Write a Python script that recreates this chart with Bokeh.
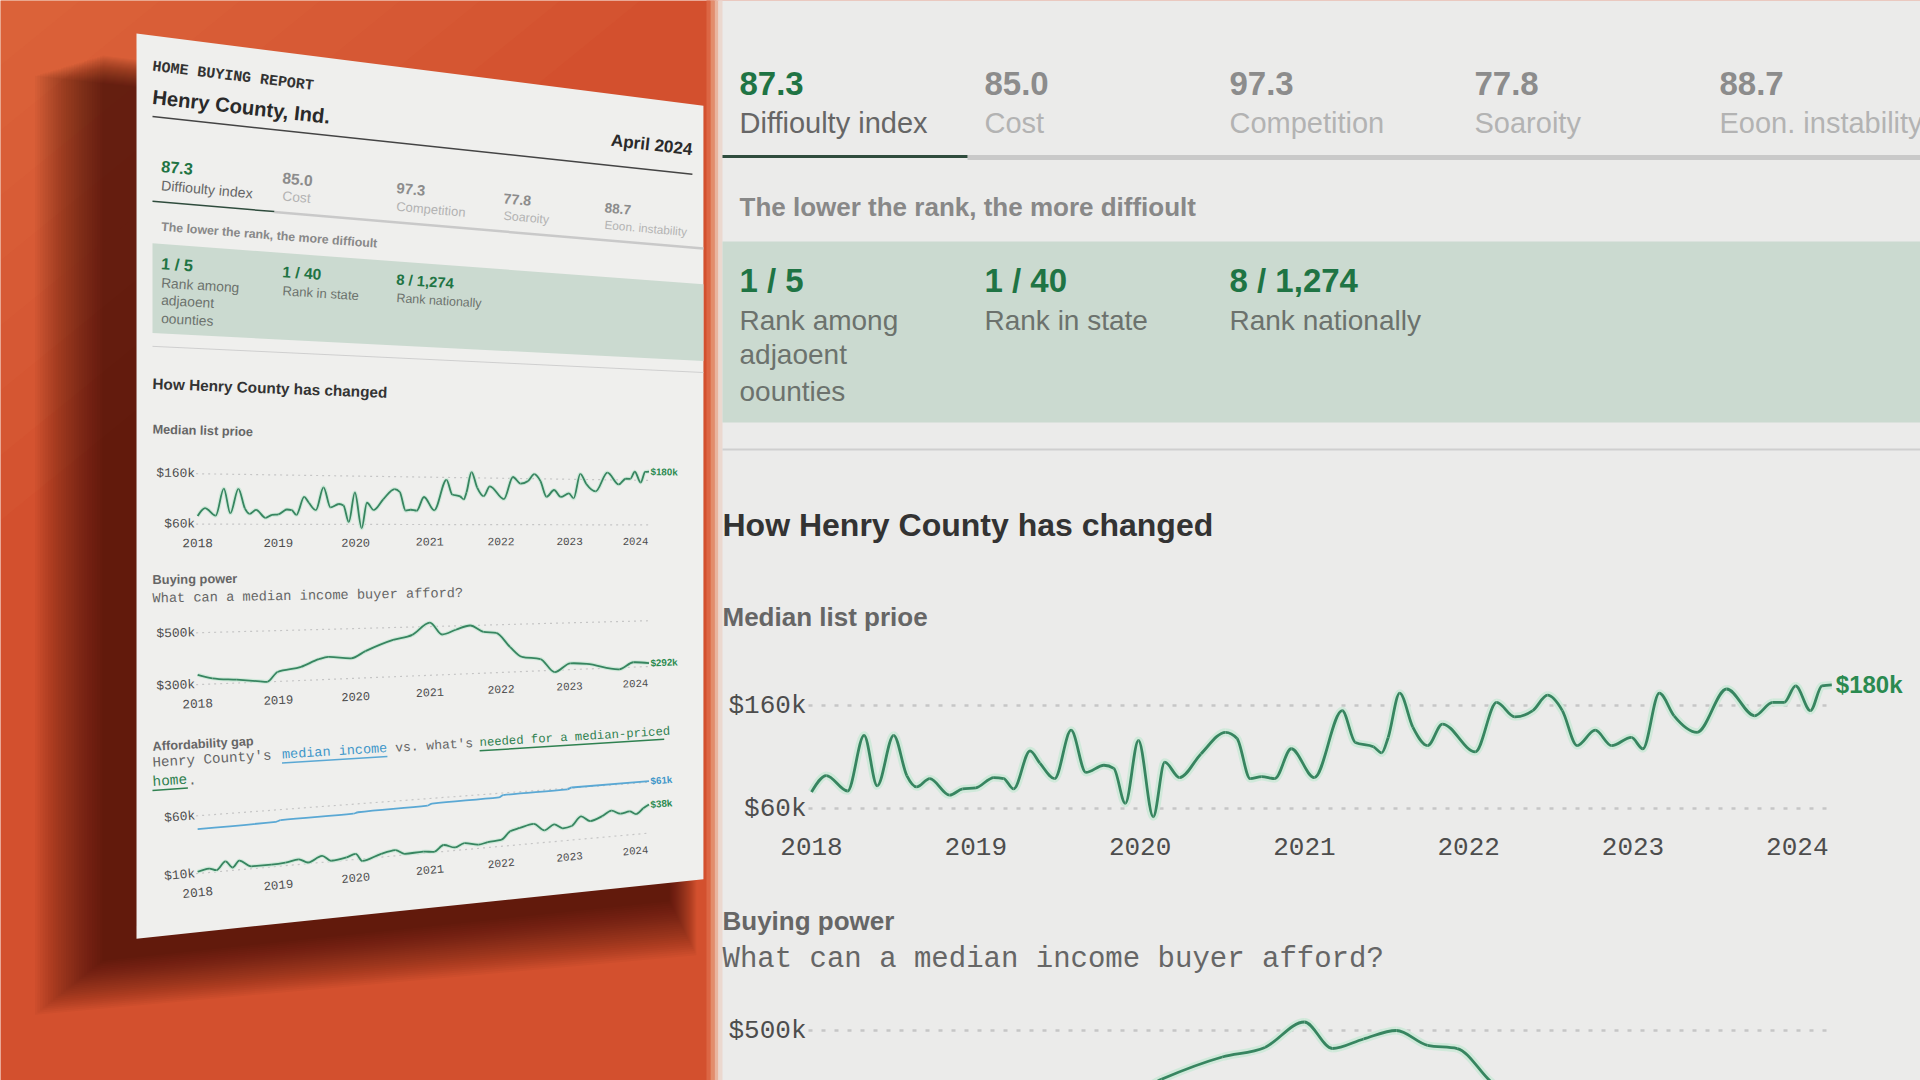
import math
from bokeh.plotting import figure
from bokeh.models import Range1d
from bokeh.core.properties import value
from bokeh.embed import file_html
from bokeh.resources import INLINE

# ---------------- values ----------------
year_ticks = [2018, 2019, 2020, 2021, 2022, 2023, 2024]
year_tick_labels = ["2018", "2019", "2020", "2021", "2022", "2023", "2024"]

median_years = [2018.00, 2018.09, 2018.22, 2018.32, 2018.40, 2018.50, 2018.58, 2018.64, 2018.72, 2018.84,
                2018.92, 2019.00, 2019.11, 2019.17, 2019.23, 2019.33, 2019.39, 2019.48, 2019.58, 2019.67,
                2019.78, 2019.84, 2019.91, 2019.99, 2020.08, 2020.15, 2020.24, 2020.37, 2020.52, 2020.59,
                2020.67, 2020.74, 2020.82, 2020.92, 2021.06, 2021.23, 2021.31, 2021.42, 2021.47, 2021.51,
                2021.58, 2021.66, 2021.75, 2021.84, 2022.04, 2022.17, 2022.28, 2022.39, 2022.48, 2022.57,
                2022.66, 2022.77, 2022.87, 2022.99, 2023.06, 2023.16, 2023.25, 2023.39, 2023.57, 2023.74,
                2023.85, 2023.92, 2023.99, 2024.08, 2024.15, 2024.21]
median_price_k = [76, 92, 77, 131, 82, 131, 92, 81, 89, 73,
                  79, 80, 90, 89, 79, 116, 104, 89, 136, 95,
                  102, 99, 65, 126, 52, 105, 90, 113, 134, 128,
                  89, 91, 89, 118, 90, 155, 124, 120, 114, 129,
                  172, 139, 121, 142, 115, 163, 149, 155, 170, 155,
                  121, 136, 121, 129, 118, 172, 150, 134, 176, 150,
                  163, 163, 179, 155, 179, 180]
median_grid_k = [60, 160]
median_grid_labels = ["$60k", "$160k"]
median_end_label = "$180k"

buying_years = [2018.00, 2018.18, 2018.48, 2018.77, 2018.86, 2018.99, 2019.29, 2019.52, 2019.64, 2019.94,
                2020.13, 2020.50, 2020.76, 2021.00, 2021.17, 2021.36, 2021.56, 2021.75, 2021.93, 2022.13,
                2022.30, 2022.57, 2022.78, 2023.01, 2023.26, 2023.75, 2023.97, 2024.21]
buying_power_k = [338, 322, 313, 303, 300, 337, 354, 382, 390, 381,
                  408, 450, 468, 516, 466, 484, 500, 472, 466, 405,
                  362, 350, 292, 327, 322, 293, 321, 315]
buying_grid_k = [300, 500]
buying_grid_labels = ["$300k", "$500k"]
buying_end_label = "$292k"

income_years = [2018.00, 2018.97, 2019.03, 2019.97, 2020.03, 2020.97, 2021.03, 2021.97, 2022.03, 2022.97,
                2023.03, 2024.21]
income_k = [48.5, 49.5, 50.6, 51.4, 52.4, 53.6, 55.2, 56.2, 58.0, 59.0, 60.4, 61.0]
needed_years = [2018.00, 2018.14, 2018.23, 2018.34, 2018.43, 2018.51, 2018.66, 2018.91, 2019.09, 2019.26,
                2019.38, 2019.56, 2019.68, 2019.88, 2020.00, 2020.09, 2020.34, 2020.53, 2020.66, 2020.91,
                2021.06, 2021.19, 2021.35, 2021.48, 2021.68, 2021.81, 2022.00, 2022.13, 2022.27, 2022.47,
                2022.63, 2022.77, 2022.90, 2023.03, 2023.17, 2023.31, 2023.49, 2023.63, 2023.77, 2023.91,
                2024.01, 2024.12, 2024.21]
needed_k = [11.5, 13.4, 11.4, 18.4, 12.5, 18.0, 12.1, 12.0, 12.6, 14.6,
            11.0, 15.9, 10.7, 12.6, 14.9, 8.0, 13.0, 15.1, 11.0, 11.5,
            10.5, 16.0, 12.8, 16.0, 13.5, 15.0, 16.0, 23.4, 25.8, 28.5,
            21.5, 26.4, 22.0, 23.5, 32.0, 26.7, 30.5, 35.0, 31.4, 32.8,
            29.7, 34.8, 38.0]
gap_grid_k = [10, 60]
gap_grid_labels = ["$10k", "$60k"]
income_end_label = "$61k"
needed_end_label = "$38k"

stat_values = ["87.3", "85.0", "97.3", "77.8", "88.7"]
stat_labels = ["Diffioulty index", "Cost", "Competition", "Soaroity", "Eoon. instability"]
rank_values = ["1 / 5", "1 / 40", "8 / 1,274"]
rank_labels = [["Rank among", "adjaoent", "oounties"], ["Rank in state"], ["Rank nationally"]]

# ---------------- styling / layout ----------------
SANS = "Liberation Sans"
MONO = "Liberation Mono"
GREEN_TXT = "#1f7444"
LINE_GREEN = "#378560"
HALO = "#d0e9da"
BLUE = "#5aa8d4"
BLUE_TXT = "#3f97c9"
ORANGE = "#d3502e"
DOC_BG = "#ebebea"
TICK = "#4d4d4d"

W, H = 1920, 1080
p = figure(width=W, height=H, x_range=Range1d(0, W), y_range=Range1d(H, 0),
           output_backend="svg", toolbar_location=None,
           x_axis_location=None, y_axis_location=None, min_border=0)
p.grid.visible = False
p.outline_line_color = None
p.background_fill_color = ORANGE
p.border_fill_color = ORANGE

X0_RIGHT = 722          # left edge of the document content in the zoomed view
DOC_R = 1251            # right edge of document (doc units)
YEAR_PX = 164.3
X2018 = 89
GRID_DX0, GRID_DX1 = 86, 1112

# perspective of the tilted page (doc units -> screen)
K = 1.321e-4


def page_f(dx):
    return 1.0 / (1.0 + K * (dx - 16.4))


def page_xy(dx, dy):
    T = dx - 16.4
    f = 1.0 / (1.0 + K * T)
    return 160.4 + 0.5111 * T * f, 530.0 + 0.494 * (dy - 821.0) * f


def page_angle(dy):
    return math.atan(1.277e-4 * (dy - 821.0))


# ---------------- background ----------------
for i in range(8):
    s = 1.0 - i / 8.0
    p.patch([0, 640 * s, 0], [0, 0, 520 * s], fill_color="#ec8450", fill_alpha=0.06, line_color=None)

corners = [page_xy(-31, -179), page_xy(DOC_R, -179), page_xy(DOC_R, 1642), page_xy(-31, 1642)]
N_SH = 26
for i in range(N_SH, -1, -1):
    s = 2.6 * i
    ox, oy = -34, 22
    sx = [corners[0][0] + ox - s, corners[1][0] + ox + s * 0.4, corners[2][0] + ox + s * 0.4, corners[3][0] + ox - s]
    sy = [corners[0][1] + oy + s * 0.3, corners[1][1] + oy + s * 0.3, corners[2][1] + oy + s * 0.8,
          corners[3][1] + oy + s * 0.8]
    p.patch(sx, sy, fill_color="#2c0a04", fill_alpha=0.033, line_color=None)

p.patch([c[0] for c in corners], [c[1] for c in corners], fill_color="#efefed", line_color=None)

# right zoomed view background with a soft edge
p.quad(left=[716], right=[W + 6], top=[-6], bottom=[H + 6], fill_color=DOC_BG, line_color=None)
for l, r, c in [(706, 710, "#dc6644"), (710, 714, "#e38d6c"), (714, 718, "#e9b59f"), (718, 722, "#ebd8cf")]:
    p.quad(left=[l], right=[r], top=[-6], bottom=[H + 6], fill_color=c, line_color=None)


# ---------------- document primitives, drawn in both views ----------------
def doc_text(dx, dy, txt, fam=SANS, size=27, color="#333333", bold=False, align="left", right=True, page=True):
    style = "bold" if bold else "normal"
    if right and -30 < dy < 1090:
        p.text(x=[X0_RIGHT + dx], y=[dy], text=[txt], text_font=value(fam), text_font_size=f"{size}px",
               text_color=color, text_font_style=style, text_align=align, text_baseline="middle")
    if page:
        em = 0.6 if fam == MONO else 0.52
        w = len(txt) * em * size
        cx = dx + w / 2 if align == "left" else (dx - w / 2 if align == "right" else dx)
        s = size * 0.5 * page_f(cx) ** 1.5
        x, y = page_xy(dx, dy)
        p.text(x=[x], y=[y], text=[txt], text_font=value(fam), text_font_size=f"{s:.2f}px",
               text_color=color, text_font_style=style, text_align=align, text_baseline="middle",
               angle=page_angle(dy))


def doc_line(dxs, dys, color, width, dash="solid", pdash="solid", right=True, page=True, alpha=1.0):
    if right:
        p.line([X0_RIGHT + d for d in dxs], dys, line_color=color, line_width=width, line_dash=dash, line_alpha=alpha)
    if page:
        pts = [page_xy(a, b) for a, b in zip(dxs, dys)]
        p.line([q[0] for q in pts], [q[1] for q in pts], line_color=color, line_width=max(width * 0.5, 0.8),
               line_dash=pdash, line_alpha=alpha)


def doc_rect(dx0, dy0, dx1, dy1, color):
    p.quad(left=[X0_RIGHT + dx0], right=[X0_RIGHT + dx1], top=[dy0], bottom=[dy1], fill_color=color, line_color=None)
    pts = [page_xy(dx0, dy0), page_xy(dx1, dy0), page_xy(dx1, dy1), page_xy(dx0, dy1)]
    p.patch([q[0] for q in pts], [q[1] for q in pts], fill_color=color, line_color=None)


def monotone(xs, ys):
    """cubic segments of a monotone-x curve through the points (like d3.curveMonotoneX)"""
    n = len(xs)
    h = [xs[i + 1] - xs[i] for i in range(n - 1)]
    s = [(ys[i + 1] - ys[i]) / h[i] for i in range(n - 1)]
    t = [0.0] * n
    for i in range(1, n - 1):
        if s[i - 1] * s[i] > 0:
            pp = (s[i - 1] * h[i] + s[i] * h[i - 1]) / (h[i - 1] + h[i])
            sg = 1.0 if s[i] > 0 else -1.0
            t[i] = sg * min(2 * abs(s[i - 1]), 2 * abs(s[i]), abs(pp))
    t[0] = (3 * s[0] - t[1]) / 2
    t[-1] = (3 * s[-1] - t[-2]) / 2
    seg = dict(x0=[], y0=[], x1=[], y1=[], cx0=[], cy0=[], cx1=[], cy1=[])
    for i in range(n - 1):
        seg["x0"].append(xs[i]); seg["y0"].append(ys[i])
        seg["x1"].append(xs[i + 1]); seg["y1"].append(ys[i + 1])
        seg["cx0"].append(xs[i] + h[i] / 3); seg["cy0"].append(ys[i] + t[i] * h[i] / 3)
        seg["cx1"].append(xs[i + 1] - h[i] / 3); seg["cy1"].append(ys[i + 1] - t[i + 1] * h[i] / 3)
    return seg


# header (only visible on the page)
doc_text(0, -116, "HOME BUYING REPORT", fam=MONO, size=31, color="#333333", bold=True)
doc_text(0, -55, "Henry County, Ind.", size=42, color="#2a2a2a", bold=True)
doc_text(1222, -74, "April 2024", size=42, color="#2a2a2a", bold=True, align="right")
doc_line([0, 1222], [-15, -15], "#444444", 3)

# stats tabs
for i, (v, lab) in enumerate(zip(stat_values, stat_labels)):
    dx = 17 + 245 * i
    doc_text(dx, 83, v, size=33, color=GREEN_TXT if i == 0 else "#8c8c8c", bold=True)
    doc_text(dx, 122, lab, size=29, color="#666666" if i == 0 else "#b3b3b3")
doc_line([245, DOC_R], [157, 157], "#c9c9c9", 5)
doc_line([0, 245], [156, 156], "#2f4c3d", 3)

doc_text(17, 206, "The lower the rank, the more diffioult", size=26, color="#888888", bold=True)

doc_rect(0, 241, DOC_R, 422, "#cbdad0")
for j, (v, labs) in enumerate(zip(rank_values, rank_labels)):
    dx = 17 + 245 * j
    doc_text(dx, 280, v, size=33, color=GREEN_TXT, bold=True)
    for k, lab in enumerate(labs):
        doc_text(dx, [320, 354, 391][k], lab, size=28, color="#6c726d")

doc_line([0, DOC_R], [449, 449], "#cfcfcf", 2)

doc_text(0, 524, "How Henry County has changed", size=32, color="#333333", bold=True)
doc_text(0, 616, "Median list prioe", size=26, color="#666666", bold=True)
doc_text(0, 920, "Buying power", size=26, color="#666666", bold=True)
doc_text(0, 959, "What can a median income buyer afford?", fam=MONO, size=29, color="#666666")
doc_text(0, 1257, "Affordability gap", size=26, color="#666666", bold=True)

# affordability subtitle with coloured, underlined phrases (monospace, placed by character column)
CW = 0.6 * 29
pieces = [(0, 1290, "Henry County's", "#666666", None), (15, 1290, "median income", BLUE_TXT, BLUE),
          (29, 1290, "vs. what's", "#666666", None), (40, 1290, "needed for a median-priced", "#2f8150", "#2f8150"),
          (0, 1329, "home", "#2f8150", "#2f8150"), (4, 1329, ".", "#666666", None)]
for c0, dy, txt, col, ul in pieces:
    doc_text(c0 * CW, dy, txt, fam=MONO, size=29, color=col, right=False)
    if ul:
        doc_line([c0 * CW, (c0 + len(txt)) * CW], [dy + 17, dy + 17], ul, 3, right=False)


# ---------------- charts ----------------
def chart_dx(yr):
    return X2018 + YEAR_PX * (yr - 2018)


def draw_chart(v0, v1, y0, y1, grid_k, grid_labels, series, right=True):
    def dy_of(v):
        return y0 + (v - v0) * (y1 - y0) / (v1 - v0)

    sub = None
    if right:
        try:
            sub = p.subplot(x_source=Range1d(2018, 2024), y_source=Range1d(v0, v1),
                            x_target=Range1d(X0_RIGHT + chart_dx(2018), X0_RIGHT + chart_dx(2024)),
                            y_target=Range1d(y0, y1))
        except Exception:
            sub = None
    gx0 = 2018 + (GRID_DX0 - X2018) / YEAR_PX
    gx1 = 2018 + (GRID_DX1 - X2018) / YEAR_PX

    # grid lines + labels
    for g, lab in zip(grid_k, grid_labels):
        gy = dy_of(g)
        if right and gy < 1080:
            if sub is not None:
                sub.line([gx0, gx1], [g, g], line_color="#c6c6c6", line_width=2.5, line_dash="4 9")
                sub.text(x=[2018], y=[g], text=[lab], x_offset=-5, text_align="right", text_baseline="middle",
                         text_font=value(MONO), text_font_size="26px", text_color=TICK)
            else:
                doc_line([GRID_DX0, GRID_DX1], [gy, gy], "#c6c6c6", 2.5, dash="4 9", page=False)
                doc_text(84, gy, lab, fam=MONO, size=26, color=TICK, align="right", page=False)
        doc_line([GRID_DX0, GRID_DX1], [gy, gy], "#c6c6c6", 2.4, pdash="2 4", right=False)
        doc_text(84, gy, lab, fam=MONO, size=26, color=TICK, align="right", right=False)

    # year labels
    ty = dy_of(v0) + 38
    for yr, lab in zip(year_ticks, year_tick_labels):
        if right and ty < 1080:
            if sub is not None:
                sub.text(x=[yr], y=[v0], text=[lab], y_offset=38, text_align="center", text_baseline="middle",
                         text_font=value(MONO), text_font_size="26px", text_color=TICK)
            else:
                doc_text(chart_dx(yr), ty, lab, fam=MONO, size=26, color=TICK, align="center", page=False)
        doc_text(chart_dx(yr), ty, lab, fam=MONO, size=26, color=TICK, align="center", right=False)

    # series, drawn as smooth monotone curves through the read points
    for yrs, vals, col, halo, end_lab, lab_col in series:
        dxs = [chart_dx(a) for a in yrs]
        dys = [dy_of(v) for v in vals]
        if right:
            if sub is not None:
                seg = monotone(yrs, vals)
                if halo:
                    sub.bezier(line_color=halo, line_width=8, **seg)
                sub.bezier(line_color=col, line_width=2.8, **seg)
                if dys[-1] < 1080:
                    sub.text(x=[yrs[-1]], y=[vals[-1]], text=[end_lab], x_offset=4, text_align="left",
                             text_baseline="middle", text_font=value(SANS), text_font_style="bold",
                             text_font_size="24px", text_color=lab_col)
            else:
                seg = monotone([X0_RIGHT + d for d in dxs], dys)
                if halo:
                    p.bezier(line_color=halo, line_width=8, **seg)
                p.bezier(line_color=col, line_width=2.8, **seg)
                doc_text(dxs[-1] + 4, dys[-1], end_lab, size=24, color=lab_col, bold=True, page=False)
        # page copy: curve control points computed in document space, then projected
        seg = monotone(dxs, dys)
        pseg = dict(x0=[], y0=[], x1=[], y1=[], cx0=[], cy0=[], cx1=[], cy1=[])
        for a, b in [("x0", "y0"), ("x1", "y1"), ("cx0", "cy0"), ("cx1", "cy1")]:
            for u, w in zip(seg[a], seg[b]):
                q = page_xy(u, w)
                pseg[a].append(q[0]); pseg[b].append(q[1])
        if halo:
            p.bezier(line_color=halo, line_width=4, **pseg)
        p.bezier(line_color=col, line_width=1.8, **pseg)
        doc_text(dxs[-1] + 4, dys[-1], end_lab, size=24, color=lab_col, bold=True, right=False)


draw_chart(60, 160, 808, 705, median_grid_k, median_grid_labels,
           [(median_years, median_price_k, LINE_GREEN, HALO, median_end_label, "#2a8a50")])
draw_chart(300, 500, 1136, 1030, buying_grid_k, buying_grid_labels,
           [(buying_years, buying_power_k, LINE_GREEN, HALO, buying_end_label, "#2a8a50")])
draw_chart(10, 60, 1522, 1404, gap_grid_k, gap_grid_labels,
           [(income_years, income_k, BLUE, None, income_end_label, BLUE_TXT),
            (needed_years, needed_k, LINE_GREEN, HALO, needed_end_label, "#2a8a50")], right=False)

open("out.html", "w").write(file_html(p, INLINE, title="Henry County home buying report"))
